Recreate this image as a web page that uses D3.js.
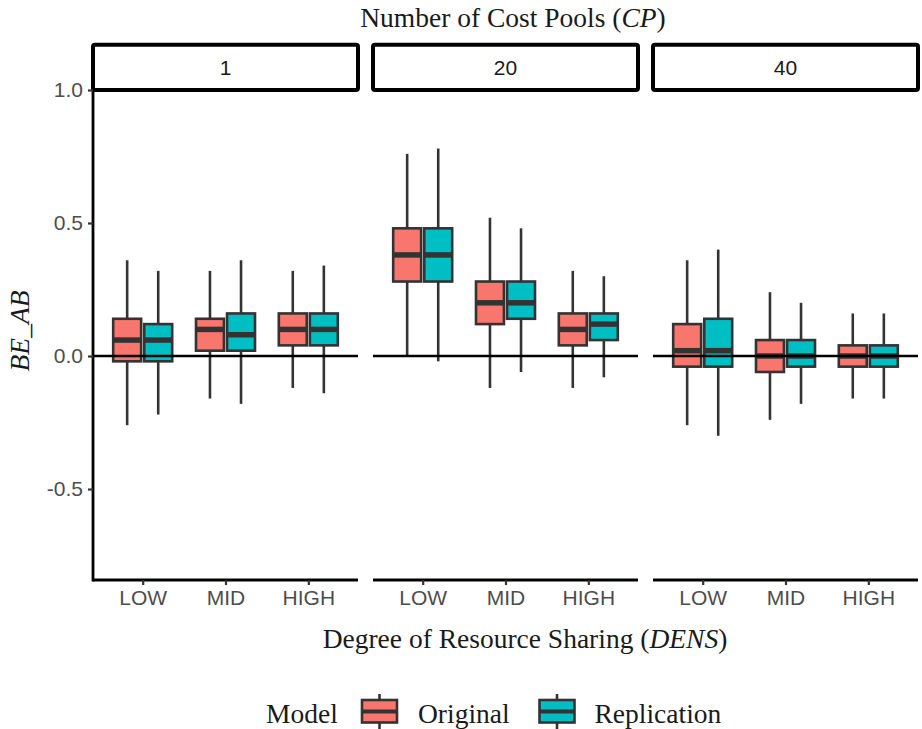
<!DOCTYPE html>
<html>
<head>
<meta charset="utf-8">
<script src="https://cdn.jsdelivr.net/npm/d3@7"></script>
<style>
  html, body { margin: 0; padding: 0; background: #fff; }
  svg { display: block; }
</style>
</head>
<body>
<script>
// Facets, categories and groups
const costPools = ["1", "20", "40"];
const densLevels = ["LOW", "MID", "HIGH"];
const models = ["Original", "Replication"];
const modelColors = ["#F8766D", "#00BFC4"];
const yTicks = [-0.5, 0.0, 0.5, 1.0];

// Box statistics, ordered CP 1 (LOW, MID, HIGH), CP 20 (...), CP 40 (...)
const origUpper  = [0.36, 0.32, 0.32, 0.76, 0.52, 0.32, 0.36, 0.24, 0.16];
const origQ3     = [0.14, 0.14, 0.16, 0.48, 0.28, 0.16, 0.12, 0.06, 0.04];
const origMedian = [0.06, 0.10, 0.10, 0.38, 0.20, 0.10, 0.02, 0.00, 0.00];
const origQ1     = [-0.02, 0.02, 0.04, 0.28, 0.12, 0.04, -0.04, -0.06, -0.04];
const origLower  = [-0.26, -0.16, -0.12, 0.00, -0.12, -0.12, -0.26, -0.24, -0.16];

const replUpper  = [0.32, 0.36, 0.34, 0.78, 0.48, 0.30, 0.40, 0.20, 0.16];
const replQ3     = [0.12, 0.16, 0.16, 0.48, 0.28, 0.16, 0.14, 0.06, 0.04];
const replMedian = [0.06, 0.08, 0.10, 0.38, 0.20, 0.12, 0.02, 0.00, 0.00];
const replQ1     = [-0.02, 0.02, 0.04, 0.28, 0.14, 0.06, -0.04, -0.04, -0.04];
const replLower  = [-0.22, -0.18, -0.14, -0.02, -0.06, -0.08, -0.30, -0.18, -0.16];

const seriesStats = [
  { lower: origLower, q1: origQ1, median: origMedian, q3: origQ3, upper: origUpper },
  { lower: replLower, q1: replQ1, median: replMedian, q3: replQ3, upper: replUpper }
];

const W = 922, H = 729;
const panelLeft = 93, panelRight = 918, panelGap = 15;
const panelTop = 90, panelBottom = 580;
const panelW = (panelRight - panelLeft - panelGap * (costPools.length - 1)) / costPools.length;

const sans = "'Liberation Sans', Arial, Helvetica, sans-serif";
const serif = "'Liberation Serif', 'Times New Roman', serif";
const boxStroke = "#333333";

const svg = d3.select("body").append("svg")
  .attr("width", W).attr("height", H)
  .attr("viewBox", `0 0 ${W} ${H}`);

const y = d3.scaleLinear().domain([-0.842, 1.0]).range([panelBottom, panelTop]);
const modelOffset = d3.scalePoint().domain(models).range([-0.1875, 0.1875]);
const boxFrac = 0.3375;

costPools.forEach((cp, pi) => {
  const x0 = panelLeft + pi * (panelW + panelGap);
  const x = d3.scalePoint().domain(densLevels).range([x0, x0 + panelW]).padding(0.6);
  const step = x.step();
  const g = svg.append("g");

  // Strip header
  g.append("rect")
    .attr("x", x0).attr("y", 44.7)
    .attr("width", panelW).attr("height", panelTop - 44.7)
    .attr("rx", 2).attr("ry", 2)
    .attr("fill", "#fff").attr("stroke", "#000").attr("stroke-width", 4);
  g.append("text")
    .attr("x", x0 + panelW / 2).attr("y", 75)
    .attr("text-anchor", "middle")
    .attr("font-family", sans).attr("font-size", 21).attr("fill", "#1a1a1a")
    .text(cp);

  // Boxes
  densLevels.forEach((lvl, li) => {
    const idx = pi * densLevels.length + li;
    models.forEach((m, mi) => {
      const s = seriesStats[mi];
      const cx = x(lvl) + modelOffset(m) * step;
      const bw = boxFrac * step;
      g.append("line")
        .attr("x1", cx).attr("x2", cx)
        .attr("y1", y(s.upper[idx])).attr("y2", y(s.q3[idx]))
        .attr("stroke", boxStroke).attr("stroke-width", 2.6);
      g.append("line")
        .attr("x1", cx).attr("x2", cx)
        .attr("y1", y(s.q1[idx])).attr("y2", y(s.lower[idx]))
        .attr("stroke", boxStroke).attr("stroke-width", 2.6);
      g.append("rect")
        .attr("x", cx - bw / 2).attr("y", y(s.q3[idx]))
        .attr("width", bw).attr("height", y(s.q1[idx]) - y(s.q3[idx]))
        .attr("fill", modelColors[mi])
        .attr("stroke", boxStroke).attr("stroke-width", 2.6);
      g.append("line")
        .attr("x1", cx - bw / 2).attr("x2", cx + bw / 2)
        .attr("y1", y(s.median[idx])).attr("y2", y(s.median[idx]))
        .attr("stroke", boxStroke).attr("stroke-width", 5.5);
    });
  });

  // Reference line at zero
  g.append("line")
    .attr("x1", x0).attr("x2", x0 + panelW)
    .attr("y1", y(0)).attr("y2", y(0))
    .attr("stroke", "#000").attr("stroke-width", 2.6);

  // Bottom axis
  const xAxis = g.append("g").attr("transform", `translate(0,${panelBottom})`)
    .call(d3.axisBottom(x).tickSize(5).tickSizeOuter(0).tickPadding(5));
  xAxis.select(".domain").attr("stroke", "#000").attr("stroke-width", 2.8)
    .attr("d", `M${x0},0H${x0 + panelW}`);
  xAxis.selectAll(".tick line").attr("stroke", boxStroke).attr("stroke-width", 2.2);
  xAxis.selectAll(".tick text")
    .attr("font-family", sans).attr("font-size", 21).attr("fill", "#4d4d4d")
    .attr("dy", "0.72em");

  // Left axis on the first panel only
  if (pi === 0) {
    const yAxis = g.append("g").attr("transform", `translate(${x0},0)`)
      .call(d3.axisLeft(y).tickValues(yTicks).tickFormat(d3.format(".1f"))
        .tickSize(5).tickSizeOuter(0).tickPadding(5));
    yAxis.select(".domain").attr("stroke", "#000").attr("stroke-width", 2.8)
      .attr("d", `M0,${panelTop}V${panelBottom + 1.4}`);
    yAxis.selectAll(".tick line").attr("stroke", boxStroke).attr("stroke-width", 2.2);
    yAxis.selectAll(".tick text")
      .attr("font-family", sans).attr("font-size", 21).attr("fill", "#4d4d4d")
      .text(d => d3.format(".1f")(d).replace("−", "-"));
  }
});

// Titles
const topTitle = svg.append("text")
  .attr("x", 513).attr("y", 27).attr("text-anchor", "middle")
  .attr("font-family", serif).attr("font-size", 27.5).attr("fill", "#1a1a1a");
topTitle.append("tspan").text("Number of Cost Pools (");
topTitle.append("tspan").attr("font-style", "italic").text("CP");
topTitle.append("tspan").text(")");

const bottomTitle = svg.append("text")
  .attr("x", 525).attr("y", 648).attr("text-anchor", "middle")
  .attr("font-family", serif).attr("font-size", 27.5).attr("fill", "#1a1a1a");
bottomTitle.append("tspan").text("Degree of Resource Sharing (");
bottomTitle.append("tspan").attr("font-style", "italic").text("DENS");
bottomTitle.append("tspan").text(")");

svg.append("text")
  .attr("transform", "translate(29,331) rotate(-90)")
  .attr("text-anchor", "middle")
  .attr("font-family", serif).attr("font-size", 27.5).attr("font-style", "italic")
  .attr("fill", "#1a1a1a")
  .text("BE_AB");

// Legend
const legend = svg.append("g");
legend.append("text")
  .attr("x", 266).attr("y", 723)
  .attr("font-family", serif).attr("font-size", 27.5).attr("fill", "#1a1a1a")
  .text("Model");
const keyX = [362, 539.5];
const labelX = [418, 594.5];
models.forEach((m, i) => {
  const kx = keyX[i], kw = 35, cx = kx + kw / 2;
  legend.append("line").attr("x1", cx).attr("x2", cx).attr("y1", 694).attr("y2", 700)
    .attr("stroke", boxStroke).attr("stroke-width", 2.6);
  legend.append("line").attr("x1", cx).attr("x2", cx).attr("y1", 722.5).attr("y2", 729)
    .attr("stroke", boxStroke).attr("stroke-width", 2.6);
  legend.append("rect").attr("x", kx).attr("y", 700).attr("width", kw).attr("height", 22.5)
    .attr("fill", modelColors[i]).attr("stroke", boxStroke).attr("stroke-width", 2.6);
  legend.append("line").attr("x1", kx).attr("x2", kx + kw).attr("y1", 711.5).attr("y2", 711.5)
    .attr("stroke", boxStroke).attr("stroke-width", 4);
  legend.append("text")
    .attr("x", labelX[i]).attr("y", 723)
    .attr("font-family", serif).attr("font-size", 27.5).attr("fill", "#1a1a1a")
    .text(m);
});
</script>
</body>
</html>
